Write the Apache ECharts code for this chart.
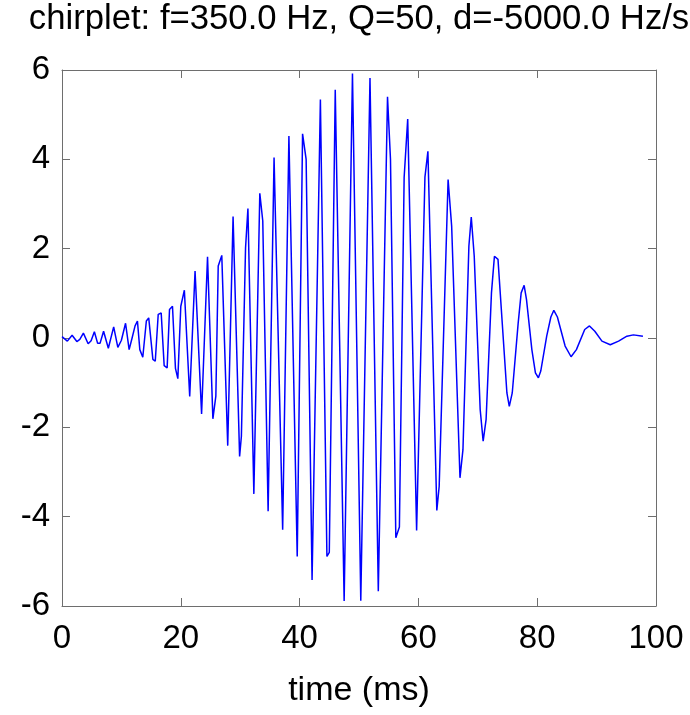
<!DOCTYPE html>
<html>
<head>
<meta charset="utf-8">
<script src="https://cdn.jsdelivr.net/npm/echarts@6/dist/echarts.min.js"></script>
<style>
html,body{margin:0;padding:0;background:#fff;}
#chart{width:690px;height:715px;}
</style>
</head>
<body>
<div id="chart"></div>
<script>
// time (ms) of each vertex
const timesMs = [
  0.0, 0.9, 1.7, 2.5, 3.0, 3.6, 4.4, 4.9, 5.45, 6.0, 6.4, 7.0, 7.3, 7.8, 8.7, 9.4, 10.0, 10.7, 11.3, 11.8,
  12.3, 12.7, 13.1, 13.6, 14.2, 14.6, 15.3, 15.7, 16.2, 16.7, 17.2, 17.7, 18.1, 18.6, 19.1, 19.5,
  20.0, 20.6, 21.5, 22.4, 23.5, 24.5, 25.4, 25.9, 26.3, 26.9, 27.9, 28.8, 29.9, 30.2, 30.9, 31.3,
  32.3, 33.3, 33.8, 34.7, 35.7, 37.15, 38.2, 39.6, 40.5, 41.1, 42.1, 43.5, 44.6, 45.0, 46.0, 47.5,
  48.9, 50.3, 51.85, 53.25, 54.8, 55.3, 56.2, 56.8, 57.6, 58.2, 59.7, 61.1, 61.6, 63.1, 63.5, 65.0,
  65.6, 67.0, 67.5, 68.5, 68.9, 69.4, 70.4, 70.9, 71.4, 72.3, 72.8, 73.4, 74.9, 75.3, 75.8, 76.8,
  77.3, 77.8, 78.2, 79.1, 79.7, 80.2, 80.6, 81.6, 82.3, 82.8, 83.4, 84.7, 85.7, 86.6, 88.0, 88.8,
  89.7, 90.9, 92.3, 93.7, 95.1, 96.2, 97.8
];
// signal value at each vertex
const signal = [
  0.03, -0.07, 0.06, -0.08, -0.03, 0.11, -0.13, -0.06, 0.14, -0.12, -0.12, 0.15, 0.12, -0.23, 0.25, -0.21, -0.05, 0.33, -0.26, 0.0,
  0.27, 0.38, -0.26, -0.43, 0.38, 0.45, -0.48, -0.52, 0.53, 0.56, -0.62, -0.67, 0.64, 0.71, -0.68, -0.91,
  0.71, 1.07, -1.31, 1.50, -1.70, 1.82, -1.81, -1.30, 1.61, 1.85, -2.41, 2.72, -2.65, -2.20, 2.02, 2.90,
  -3.49, 3.24, 2.62, -3.88, 4.04, -4.29, 4.52, -4.89, 4.57, 4.00, -5.42, 5.34, -4.89, -4.80, 5.56, -5.89,
  5.92, -5.88, 5.82, -5.67, 5.40, 4.00, -4.47, -4.23, 3.60, 4.90, -4.31, 3.60, 4.18, -3.86, -3.32, 3.55,
  2.50, -3.13, -2.50, 2.06, 2.71, 1.83, -1.60, -2.31, -1.82, 1.01, 1.83, 1.76, -1.23, -1.53, -1.23, 0.34,
  1.01, 1.18, 0.86, -0.26, -0.78, -0.89, -0.74, 0.04, 0.47, 0.62, 0.47, -0.18, -0.42, -0.26, 0.19, 0.27,
  0.15, -0.07, -0.15, -0.07, 0.04, 0.07, 0.04
];
const xTicks = [0, 20, 40, 60, 80, 100];
const yTicks = [-6, -4, -2, 0, 2, 4, 6];
const titleText = 'chirplet: f=350.0 Hz, Q=50, d=-5000.0 Hz/s';
const xLabel = 'time (ms)';

const FONT = "'Liberation Sans', Arial, Helvetica, sans-serif";
const frameColor = '#6e6e6e';
const seriesData = timesMs.map((t, i) => [t, signal[i]]);

const chart = echarts.init(document.getElementById('chart'), null, {renderer: 'canvas'});
const gridL = 62, gridT = 70, gridW = 594, gridH = 536;

function axisCommon(showLabel) {
  return {
    axisLine: {show: true, onZero: false, lineStyle: {color: frameColor, width: 1}},
    axisTick: {show: true, inside: true, length: 8, lineStyle: {color: frameColor, width: 1}},
    splitLine: {show: false},
    axisLabel: {show: showLabel, color: '#000', fontSize: 33, fontFamily: FONT}
  };
}

const option = {
  animation: false,
  backgroundColor: '#fff',
  grid: {left: gridL, top: gridT, width: gridW, height: gridH, containLabel: false, outerBoundsMode: 'none'},
  xAxis: [
    Object.assign({
      type: 'value', min: xTicks[0], max: xTicks[xTicks.length - 1], interval: 20, position: 'bottom',
      name: xLabel, nameLocation: 'middle', nameGap: 68,
      nameTextStyle: {color: '#000', fontSize: 34, fontFamily: FONT}
    }, axisCommon(true)),
    Object.assign({
      type: 'value', min: xTicks[0], max: xTicks[xTicks.length - 1], interval: 20, position: 'top'
    }, axisCommon(false))
  ],
  yAxis: [
    Object.assign({
      type: 'value', min: yTicks[0], max: yTicks[yTicks.length - 1], interval: 2, position: 'left'
    }, axisCommon(true)),
    Object.assign({
      type: 'value', min: yTicks[0], max: yTicks[yTicks.length - 1], interval: 2, position: 'right'
    }, axisCommon(false))
  ],
  graphic: [{
    type: 'text',
    x: gridL + gridW / 2,
    y: 19,
    style: {
      text: titleText,
      fill: '#000',
      font: "34.7px " + FONT,
      textAlign: 'center',
      textVerticalAlign: 'middle'
    }
  }],
  series: [{
    type: 'line',
    data: seriesData,
    xAxisIndex: 0,
    yAxisIndex: 0,
    showSymbol: false,
    symbol: 'none',
    smooth: false,
    lineStyle: {color: '#0000ff', width: 1.5},
    clip: true
  }]
};
option.xAxis[0].axisLabel.margin = 16;
option.yAxis[0].axisLabel.margin = 12;
chart.setOption(option);
</script>
</body>
</html>
